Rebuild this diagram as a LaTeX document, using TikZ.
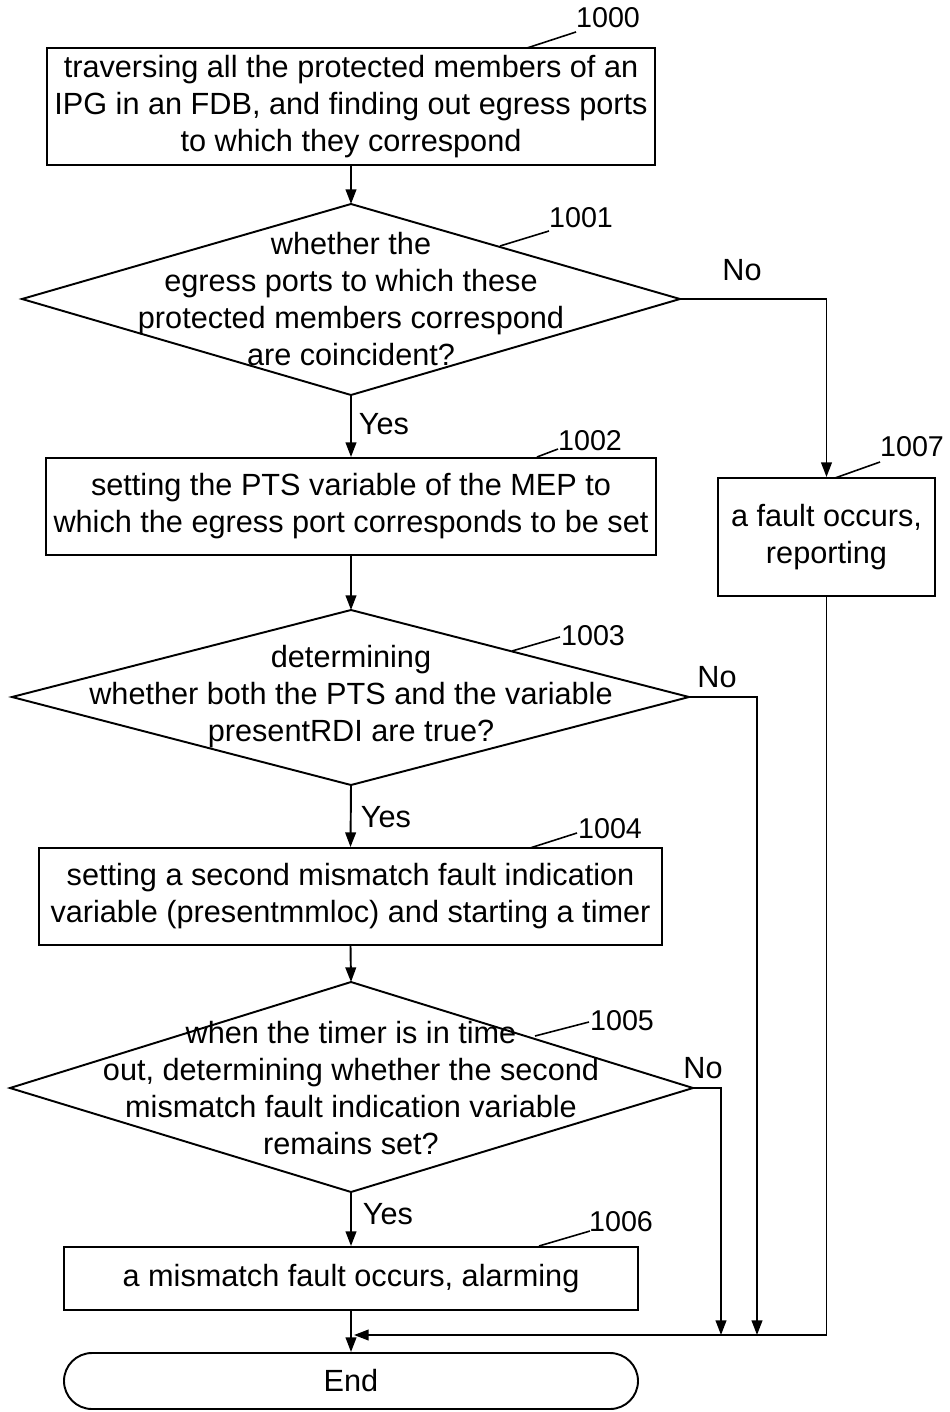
\documentclass[tikz,border=0pt]{standalone}
\usepackage{fontspec}
\setmainfont{Liberation Sans}
\usetikzlibrary{arrows.meta}
\begin{document}
\begin{tikzpicture}[x=0.75pt,y=-0.75pt,line width=1.45pt,
  every node/.style={font=\fontsize{23}{27.75}\selectfont},
  stepbox/.style={draw,rectangle,inner sep=0pt,align=center},
  endbox/.style={draw,rectangle,rounded corners=21pt,inner sep=0pt,
    minimum width=430.5pt,minimum height=42pt},
  txt/.style={align=center,inner sep=0pt},
  tag/.style={inner sep=0pt},
  numtag/.style={inner sep=0pt,font=\fontsize{21.5}{25}\selectfont},
  flow/.style={-{Triangle[length=11pt,width=8pt]}},
  lead/.style={line width=1.2pt}]
\useasboundingbox (0,0) rectangle (949,1412);

% process boxes
\node[stepbox,minimum width=456pt,minimum height=87.75pt] (b0) at (351,106.5)
  {traversing all the protected members of an\\IPG in an FDB, and finding out egress ports\\to which they correspond};
\node[stepbox,minimum width=457.5pt,minimum height=72.75pt] (b2) at (351,506.5)
  {setting the PTS variable of the MEP to\\which the egress port corresponds to be set};
\node[stepbox,minimum width=162.75pt,minimum height=88.5pt] (b7) at (826.5,537)
  {a fault occurs,\\reporting};
\node[stepbox,minimum width=467.25pt,minimum height=72.75pt] (b4) at (350.5,896.5)
  {setting a second mismatch fault indication\\variable (presentmmloc) and starting a timer};
\node[stepbox,minimum width=430.5pt,minimum height=47.25pt] (b6) at (351,1278.5)
  {a mismatch fault occurs, alarming};
\node[endbox] (end) at (351,1381) {End};

% decision diamonds
\coordinate (d1l) at (22,299);  \coordinate (d1t) at (351,204);
\coordinate (d1r) at (680,299); \coordinate (d1b) at (351,395);
\draw (d1l) -- (d1t) -- (d1r) -- (d1b) -- cycle;
\node[txt] (q1) at (351,299) {whether the\\egress ports to which these\\protected members correspond\\are coincident?};

\coordinate (d3l) at (12,697);  \coordinate (d3t) at (351,610);
\coordinate (d3r) at (689,697); \coordinate (d3b) at (351,785);
\draw (d3l) -- (d3t) -- (d3r) -- (d3b) -- cycle;
\node[txt] (q3) at (351,697) {determining\\whether both the PTS and the variable\\presentRDI are true?};

\coordinate (d5l) at (10,1088);  \coordinate (d5t) at (351,982);
\coordinate (d5r) at (693,1088); \coordinate (d5b) at (351,1192);
\draw (d5l) -- (d5t) -- (d5r) -- (d5b) -- cycle;
\node[txt] (q5) at (351,1088) {when the timer is in time\\out, determining whether the second\\mismatch fault indication variable\\remains set?};

% merge points on the collecting line
\coordinate (m0) at (354,1335);
\coordinate (m3) at (757,1335);
\coordinate (m5) at (721,1335);

% connectors
\draw[flow] (b0.south) -- (d1t);
\draw[flow] (d1r) -| (b7.north);
\draw[flow] (d1b) -- (b2.north);
\draw[flow] (b2.south) -- (d3t);
\draw[flow] (d3r) -| (m3);
\draw[flow] (d3b) -- (b4.north);
\draw[flow] (b4.south) -- (d5t);
\draw[flow] (d5r) -| (m5);
\draw[flow] (d5b) -- (b6.north);
\draw[flow] (b6.south) -- (end.north);
\draw[flow] (b7.south) |- (m0);

% branch labels
\node[tag] (n1) at (742,270) {No};
\node[tag] (y1) at (384,424) {Yes};
\node[tag] (n3) at (717,677) {No};
\node[tag] (y3) at (386,817) {Yes};
\node[tag] (n5) at (703,1068) {No};
\node[tag] (y5) at (388,1214) {Yes};

% reference numerals with leader lines
\node[numtag] (t0) at (608,18) {1000};
\coordinate (a0) at (527,48);  \coordinate (e0) at (576,32);
\draw[lead] (a0) -- (e0);
\node[numtag] (t1) at (581,218) {1001};
\coordinate (a1) at (500,246); \coordinate (e1) at (549,231);
\draw[lead] (a1) -- (e1);
\node[numtag] (t2) at (590,441) {1002};
\coordinate (a2) at (537,457); \coordinate (e2) at (558,449);
\draw[lead] (a2) -- (e2);
\node[numtag] (t7) at (912,447) {1007};
\coordinate (a7) at (835,478); \coordinate (e7) at (880,462);
\draw[lead] (a7) -- (e7);
\node[numtag] (t3) at (593,636) {1003};
\coordinate (a3) at (512,651); \coordinate (e3) at (560,637);
\draw[lead] (a3) -- (e3);
\node[numtag] (t4) at (610,829) {1004};
\coordinate (a4) at (530,848); \coordinate (e4) at (577,833);
\draw[lead] (a4) -- (e4);
\node[numtag] (t5) at (622,1021) {1005};
\coordinate (a5) at (535,1036); \coordinate (e5) at (589,1022);
\draw[lead] (a5) -- (e5);
\node[numtag] (t6) at (621,1222) {1006};
\coordinate (a6) at (539,1246); \coordinate (e6) at (590,1231);
\draw[lead] (a6) -- (e6);
\end{tikzpicture}
\end{document}
